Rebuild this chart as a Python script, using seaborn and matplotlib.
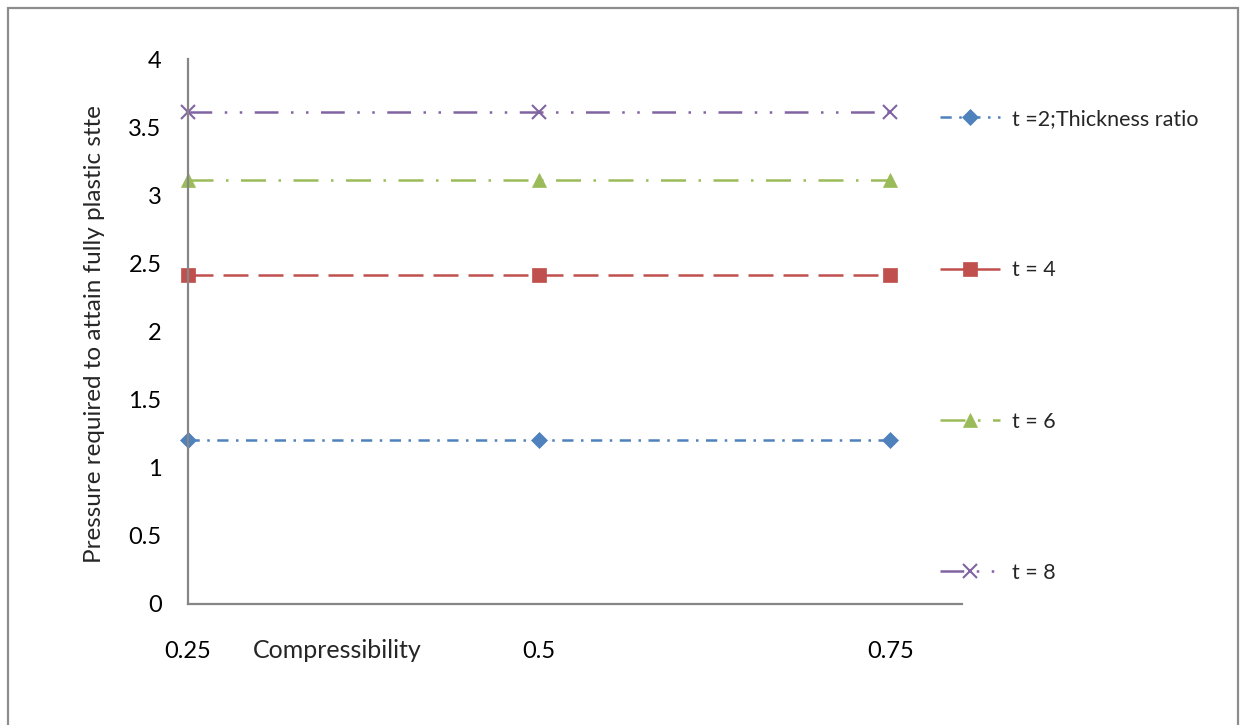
import matplotlib
matplotlib.use("Agg")
import matplotlib.pyplot as plt
import seaborn as sns
import pandas as pd
from matplotlib.patches import Rectangle
from matplotlib.lines import Line2D

compressibility = [0.25, 0.5, 0.75]
series_labels = ["t =2;Thickness ratio", "t = 4", "t = 6", "t = 8"]
t2 = [1.20, 1.20, 1.20]
t4 = [2.41, 2.41, 2.41]
t6 = [3.11, 3.11, 3.11]
t8 = [3.61, 3.61, 3.61]
x_ticks = [0.25, 0.5, 0.75]
y_ticks = [0, 0.5, 1, 1.5, 2, 2.5, 3, 3.5, 4]

sns.set_theme(style="white")
plt.rcParams['font.family'] = ['Lato', 'DejaVu Sans']

fig = plt.figure(figsize=(12.41, 7.25), dpi=100)
ax = fig.add_axes([188/1241, 1-603.5/725, (962-188)/1241, (603.5-59)/725])

colors = ["#4F81BD", "#C0504D", "#9BBB59", "#8064A2"]
markers = ["D", "s", "^", "x"]
msizes = [8, 9.5, 10, 10]
lw = 1.8
dash_styles = [(0, (4.5, 3, 1, 3)), (0, (10, 4)), (0, (10, 5, 1, 5)), (0, (9.5, 5, 1, 5, 1, 5))]
values = [t2, t4, t6, t8]

handles = []
for lab, vals, c, m, ms, ds in zip(series_labels, values, colors, markers, msizes, dash_styles):
    df = pd.DataFrame({"x": compressibility, "y": vals})
    sns.lineplot(data=df, x="x", y="y", ax=ax, color=c, linewidth=lw, linestyle=ds,
                 marker=m, markersize=ms, markeredgecolor=c, markerfacecolor=c,
                 markeredgewidth=1.5 if m == "x" else 0.5, clip_on=False, legend=False)
    handles.append(Line2D([0], [0], color=c, linewidth=lw, linestyle=ds, marker=m,
                          markersize=ms, markeredgecolor=c, markerfacecolor=c,
                          markeredgewidth=1.5 if m == "x" else 0.5))

ax.set_xlim(0.25, 0.801)
ax.set_ylim(0, 4)
ax.set_xticks(x_ticks)
ax.set_xticklabels(["0.25", "0.5", "0.75"])
ax.set_yticks(y_ticks)
ax.set_yticklabels(["0", "0.5", "1", "1.5", "2", "2.5", "3", "3.5", "4"])
ax.tick_params(axis="both", length=0, labelsize=17, colors="black")
ax.tick_params(axis="x", pad=27)
ax.tick_params(axis="y", pad=19)

for s in ["top", "right"]:
    ax.spines[s].set_visible(False)
for s in ["left", "bottom"]:
    ax.spines[s].set_color("#868686")
    ax.spines[s].set_linewidth(1.6)

ax.set_xlabel("Compressibility", fontsize=18)
ax.xaxis.set_label_coords((337-188)/(962-188), -(651-603.5)/544.5)
ax.xaxis.label.set_va("center")
ax.set_ylabel("Pressure required to attain fully plastic stte", fontsize=17.5)
ax.yaxis.set_label_coords(-(188-95)/(962-188), (603.5-334)/544.5)
ax.yaxis.label.set_va("center")

fig.legend(handles=handles, labels=series_labels, loc="upper left",
           bbox_to_anchor=(940/1241, 1-109/725), frameon=False, fontsize=15.5,
           labelspacing=6.1, handlelength=2.8, handletextpad=0.55,
           borderpad=0, borderaxespad=0)

fig.patches.append(Rectangle((7.5/1241, -0.05), (1238-7.5)/1241, 1.05-8/725,
                             transform=fig.transFigure, fill=False,
                             edgecolor="#8c8c8c", linewidth=1.6))

fig.savefig("out.png", dpi=100)
